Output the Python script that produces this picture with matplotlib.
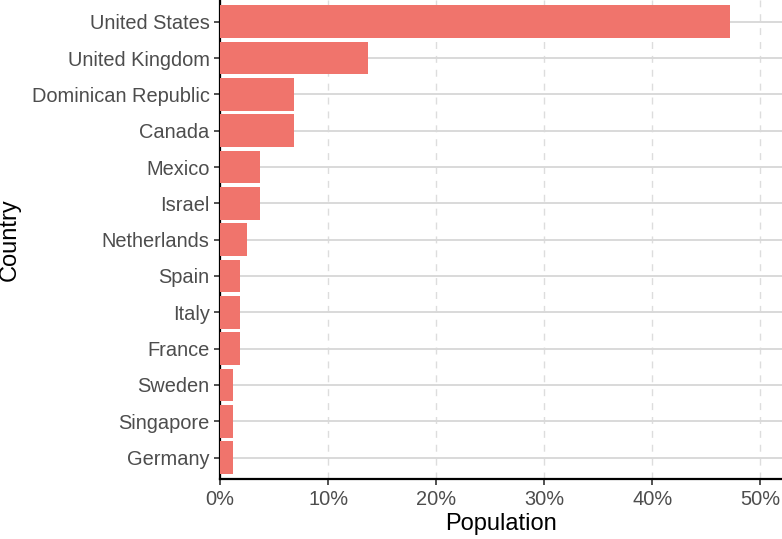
import matplotlib.pyplot as plt
from matplotlib.ticker import PercentFormatter

# top to bottom as in the chart
countries = ["United States", "United Kingdom", "Dominican Republic", "Canada",
             "Mexico", "Israel", "Netherlands", "Spain", "Italy", "France",
             "Sweden", "Singapore", "Germany"]
share = [47.2, 13.66, 6.83, 6.83, 3.73, 3.73, 2.48, 1.86, 1.86, 1.86,
         1.24, 1.24, 1.24]
x_ticks = [0, 10, 20, 30, 40, 50]

plt.rcParams["font.family"] = ["Liberation Sans", "DejaVu Sans"]

W, H = 782, 539
left, bottom = 220, 479.3
fig = plt.figure(figsize=(W / 100, H / 100), dpi=100)
ax = fig.add_axes([left / W, 1 - bottom / H, (W - left) / W, bottom / H])

pos = list(range(len(countries)))[::-1]
ax.barh(pos, share, height=0.9, color="#F0746C", zorder=3)

ax.set_ylim(-0.6, len(countries) - 1 + 0.6)
ax.set_xlim(0, 52.0)
ax.set_yticks(pos)
ax.set_yticklabels(countries)
ax.set_xticks(x_ticks)
ax.xaxis.set_major_formatter(PercentFormatter(decimals=0))

ax.grid(axis="y", color="#d9d9d9", linewidth=1.4, zorder=0)
ax.grid(axis="x", color="#dddddd", linewidth=1.0, linestyle=(0, (5, 5)), zorder=0)

for s in ["top", "right"]:
    ax.spines[s].set_visible(False)
for s in ["left", "bottom"]:
    ax.spines[s].set_color("black")
    ax.spines[s].set_linewidth(1.6)

ax.tick_params(axis="both", colors="#333333", labelcolor="#4d4d4d",
               labelsize=14.4, length=4, width=1.2)
ax.set_xlabel("Population", fontsize=17, color="black", labelpad=3)
ax.set_ylabel("Country", fontsize=17, color="black", labelpad=8)

fig.savefig("out.png", dpi=100)
